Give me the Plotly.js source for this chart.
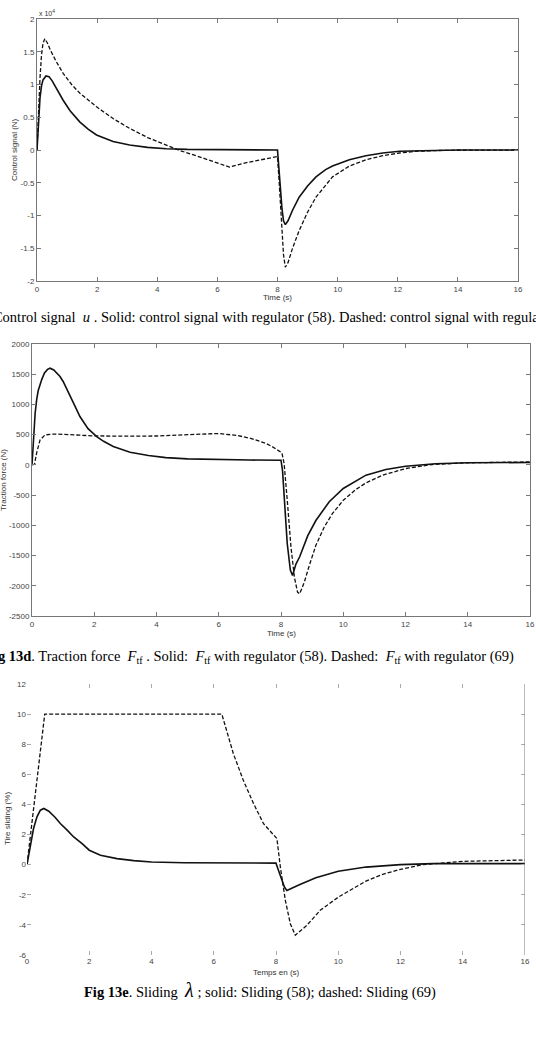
<!DOCTYPE html>
<html>
<head>
<meta charset="utf-8">
<script src="https://cdn.plot.ly/plotly-3.0.1.min.js"></script>
<style>html,body{margin:0;padding:0;background:#fff;}#chart{width:536px;height:1048px;}</style>
</head>
<body>
<div id="chart"></div>
<script>
// ---------- Fig 13c: control signal (x 10^4 N) ----------
const uSolidT = [0,0.05,0.1,0.15,0.2,0.3,0.4,0.5,0.65,0.87,1.1,1.42,1.7,1.98,2.53,3.08,3.68,4.3,5.0,6.0,7.0,8.0,8.05,8.1,8.15,8.2,8.26,8.35,8.5,8.72,9.0,9.28,9.6,9.83,10.39,10.94,11.5,12.06,13.0,14.0,16.0];
const uSolidV = [0,0.45,0.8,0.98,1.07,1.13,1.12,1.06,0.94,0.76,0.6,0.43,0.32,0.23,0.13,0.076,0.04,0.02,0.01,0.004,0.001,0,-0.3,-0.62,-0.9,-1.08,-1.14,-1.08,-0.92,-0.72,-0.55,-0.41,-0.3,-0.245,-0.15,-0.087,-0.046,-0.02,-0.005,0,0];
const uDashT = [0,0.05,0.1,0.15,0.2,0.26,0.35,0.45,0.64,0.87,1.15,1.42,1.7,1.98,2.53,3.08,3.68,4.0,4.7,5.5,6.4,7.0,7.62,8.0,8.05,8.1,8.15,8.2,8.26,8.35,8.5,8.72,9.0,9.28,9.83,10.39,10.94,11.5,12.06,12.6,13.5,16.0];
const uDashV = [0,0.6,1.1,1.45,1.63,1.7,1.63,1.52,1.35,1.17,1.0,0.87,0.76,0.66,0.48,0.33,0.19,0.13,0,-0.12,-0.26,-0.19,-0.13,-0.1,-0.45,-0.9,-1.3,-1.6,-1.79,-1.72,-1.5,-1.23,-0.95,-0.72,-0.41,-0.245,-0.15,-0.087,-0.046,-0.02,-0.005,0];
const uTicks = [-2,-1.5,-1,-0.5,0,0.5,1,1.5,2];
const uTickText = ['-2','-1.5','-1','-0.5','0','0.5','1','1.5','2'];

// ---------- Fig 13d: traction force (N) ----------
const fSolidT = [0,0.05,0.1,0.15,0.2,0.31,0.4,0.5,0.58,0.7,0.9,1.0,1.22,1.4,1.54,1.8,2.08,2.3,2.61,3.15,3.74,4.3,5.0,6.0,7.0,8.0,8.05,8.1,8.2,8.3,8.37,8.48,8.6,8.86,9.12,9.55,10.0,10.73,11.37,12.0,12.96,14.0,16.0];
const fSolidV = [0,550,850,1080,1230,1407,1520,1580,1600,1570,1462,1380,1131,950,800,600,469,390,303,210,155,120,100,85,80,77,-100,-500,-1300,-1740,-1830,-1640,-1520,-1170,-920,-610,-390,-170,-77,-22,20,35,40];
const fDashT = [0,0.08,0.15,0.26,0.42,0.6,0.7,1.0,1.5,2.0,3.0,4.0,5.0,6.0,6.6,7.05,7.52,7.73,8.03,8.1,8.21,8.32,8.43,8.53,8.6,8.75,8.91,9.12,9.39,9.65,10.0,10.4,10.73,11.26,12.0,12.86,13.9,16.0];
const fDashV = [0,10,200,414,497,508,510,505,490,480,475,478,500,519,486,436,354,298,199,22,-641,-1359,-1856,-2105,-2133,-1939,-1663,-1331,-1028,-807,-586,-409,-298,-171,-61,6,33,50];
const fTicks = [-2500,-2000,-1500,-1000,-500,0,500,1000,1500,2000];
const fTickText = ['-2500','-2000','-1500','-1000','-500','0','500','1000','1500','2000'];

// ---------- Fig 13e: tire sliding (%) ----------
const sSolidT = [0,0.11,0.21,0.32,0.43,0.54,0.7,0.9,1.07,1.29,1.5,1.77,2.0,2.36,2.89,3.43,4.0,5.04,6.0,8.0,8.05,8.16,8.27,8.35,8.53,8.75,9.28,10.0,10.89,12.0,13.04,16.0];
const sSolidV = [0,1.4,2.4,3.18,3.62,3.73,3.55,3.15,2.73,2.29,1.84,1.4,0.96,0.62,0.4,0.27,0.18,0.13,0.11,0.1,-0.2,-0.82,-1.49,-1.71,-1.56,-1.33,-0.87,-0.44,-0.16,0,0.07,0.07];
const sDashT = [0,0.57,6.26,6.45,6.63,6.95,7.28,7.6,7.87,8.03,8.14,8.3,8.46,8.62,8.99,9.42,10.0,10.46,10.89,11.43,12.0,12.72,13.36,14.0,16.0];
const sDashV = [0,10,10,8.6,7.37,5.6,4.05,2.72,2.06,1.73,-0.16,-2.37,-3.92,-4.69,-4.03,-3.03,-2.16,-1.6,-1.09,-0.64,-0.31,0,0.13,0.22,0.31];
const sTicks = [-6,-4,-2,0,2,4,6,8,10,12];
const sTickText = ['-6','-4','-2','0','2','4','6','8','10','12'];

const timeTicks = [0,2,4,6,8,10,12,14,16];
const timeTickText = ['0','2','4','6','8','10','12','14','16'];

const W = 536, H = 1048;
const fx = p => p / W;
const fy = p => 1 - p / H;

const solidLine = {color:'#111', width:1.6};
const dashLine = {color:'#111', width:1.3, dash:'4px,2px'};

const traces = [
  {x:uSolidT, y:uSolidV, xaxis:'x', yaxis:'y', mode:'lines', line:solidLine, name:'(58)'},
  {x:uDashT, y:uDashV, xaxis:'x', yaxis:'y', mode:'lines', line:dashLine, name:'(69)'},
  {x:fSolidT, y:fSolidV, xaxis:'x2', yaxis:'y2', mode:'lines', line:solidLine, name:'(58)'},
  {x:fDashT, y:fDashV, xaxis:'x2', yaxis:'y2', mode:'lines', line:dashLine, name:'(69)'},
  {x:sSolidT, y:sSolidV, xaxis:'x3', yaxis:'y3', mode:'lines', line:solidLine, name:'(58)'},
  {x:sDashT, y:sDashV, xaxis:'x3', yaxis:'y3', mode:'lines', line:dashLine, name:'(69)'}
];

const tickFont = {family:'Liberation Sans, Arial, sans-serif', size:8, color:'#444'};
function xAx(dom, anchor, lineOn, tc) {
  return {domain:dom, anchor:anchor, range:[0,16], tickvals:timeTicks, ticktext:timeTickText,
    ticks:'inside', ticklen:4, tickcolor:tc, showline:lineOn, linecolor:'#777', linewidth:1,
    mirror:'ticks', showgrid:false, zeroline:false, tickfont:tickFont, fixedrange:true};
}
function yAx(dom, anchor, rng, tv, tt, lineOn, tc) {
  return {domain:dom, anchor:anchor, range:rng, tickvals:tv, ticktext:tt,
    ticks:'inside', ticklen:4, tickcolor:tc, showline:lineOn, linecolor:'#777', linewidth:1,
    mirror:'ticks', showgrid:false, zeroline:false, tickfont:tickFont, fixedrange:true};
}

const axisTitleFont = {family:'Liberation Sans, Arial, sans-serif', size:8, color:'#333'};
const capFont = {family:'Liberation Serif, Times New Roman, serif', size:14.5, color:'#000'};

function ann(text, px, py, opts) {
  return Object.assign({text:text, xref:'paper', yref:'paper', x:fx(px), y:fy(py),
    showarrow:false, xanchor:'center', yanchor:'middle', font:axisTitleFont}, opts || {});
}

const annotations = [
  ann('x 10<sup>4</sup>', 37, 13, {xanchor:'left', font:{family:'Liberation Sans, Arial, sans-serif', size:7, color:'#333'}}),
  ann('Control signal (N)', 14, 150, {textangle:-90}),
  ann('Time (s)', 277, 297),
  ann('<b>Fig 13c</b>. Control signal  <i>u</i> . Solid: control signal with regulator (58). Dashed: control signal with regulator (69)', -61, 317, {xanchor:'left', font:capFont}),
  ann('Traction force (N)', 3, 480, {textangle:-90}),
  ann('Time (s)', 281, 633),
  ann('<b>Fig 13d</b>. Traction force  <i>F</i><sub>tf</sub> . Solid:  <i>F</i><sub>tf</sub> with regulator (58). Dashed:  <i>F</i><sub>tf</sub> with regulator (69)', 516, 657, {xanchor:'right', font:capFont}),
  ann('Tire sliding (%)', 7, 819, {textangle:-90}),
  ann('Temps en (s)', 276, 972),
  ann('<b>Fig 13e</b>. Sliding  <span style="font-size:20px"><i>λ</i></span> ; solid: Sliding (58); dashed: Sliding (69)', 260, 990, {font:capFont})
];

const layout = {
  width:W, height:H, margin:{l:0,r:0,t:0,b:0}, paper_bgcolor:'#fff', plot_bgcolor:'#fff', showlegend:false,
  xaxis: xAx([fx(37), fx(518)], 'y', true, '#777'),
  yaxis: yAx([fy(281), fy(19)], 'x', [-2,2], uTicks, uTickText, true, '#777'),
  xaxis2: xAx([fx(32), fx(530)], 'y2', true, '#777'),
  yaxis2: yAx([fy(616), fy(344)], 'x2', [-2500,2000], fTicks, fTickText, true, '#777'),
  xaxis3: xAx([fx(27), fx(525)], 'y3', false, '#aaa'),
  yaxis3: yAx([fy(955), fy(684)], 'x3', [-6,12], sTicks, sTickText, false, '#aaa'),
  shapes: [
    {type:'line', xref:'x3', yref:'y3', x0:16, x1:16, y0:-6, y1:12, line:{color:'#777', width:1}}
  ],
  annotations: annotations
};

Plotly.newPlot('chart', traces, layout, {staticPlot:true, displayModeBar:false});
</script>
</body>
</html>
